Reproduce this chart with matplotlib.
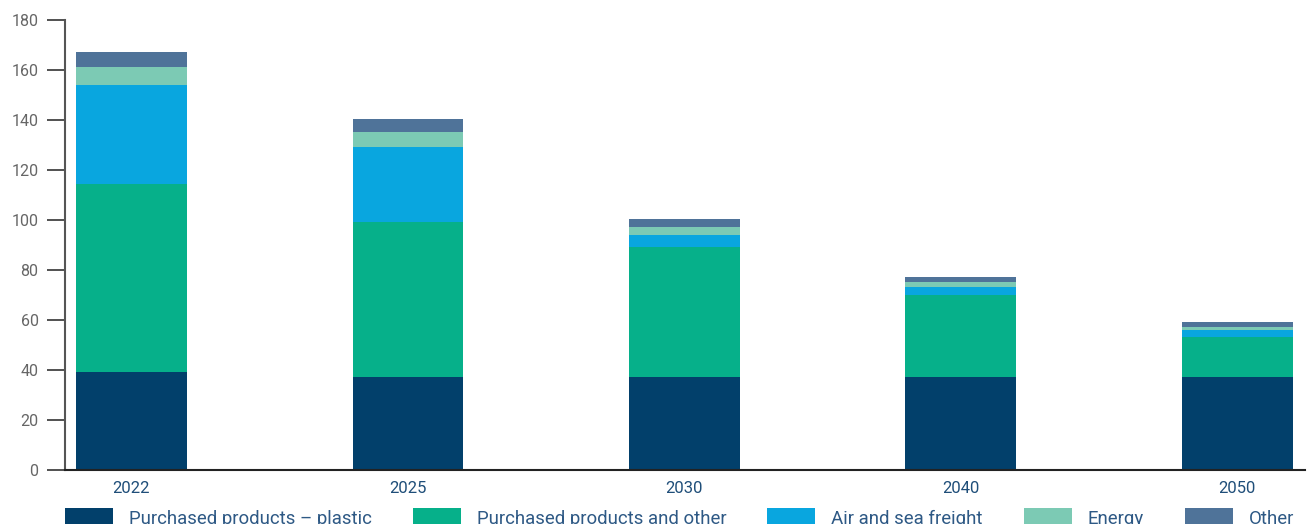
import numpy as np
import matplotlib
matplotlib.use("Agg")
import matplotlib.pyplot as plt

# values
years = ["2022", "2025", "2030", "2040", "2050"]
plastic = [39.2, 37.2, 37.2, 37.2, 37.2]
products_other = [75.2, 62.0, 52.0, 32.8, 16.0]
freight = [39.6, 30.0, 4.8, 3.2, 2.8]
energy = [7.2, 6.0, 3.2, 2.0, 1.2]
other = [6.0, 5.2, 3.2, 2.0, 2.0]

labels = ["Purchased products \u2013 plastic", "Purchased products and other",
          "Air and sea freight", "Energy", "Other"]
colors = ["#02406b", "#06b08a", "#09a6df", "#7ccab4", "#4f7399"]

plt.rcParams['font.family'] = ['Roboto', 'DejaVu Sans']

fig = plt.figure(figsize=(13.09, 5.24), dpi=100)
ax = fig.add_axes([65 / 1309, 54 / 524, 1240 / 1309, 450 / 524])

x = np.arange(len(years))
bottom = np.zeros(len(years))
for vals, lab, col in zip([plastic, products_other, freight, energy, other], labels, colors):
    ax.bar(x, vals, width=0.4, bottom=bottom, color=col, label=lab)
    bottom += np.array(vals)

ax.set_xlim(-0.24, 4.245)
ax.set_ylim(0, 180)
ax.set_yticks(range(0, 181, 20))
ax.set_xticks(x)
ax.set_xticklabels(years)

for s in ["top", "right"]:
    ax.spines[s].set_visible(False)
ax.spines["left"].set_color("#555555")
ax.spines["left"].set_linewidth(1.5)
ax.spines["bottom"].set_color("#222222")
ax.spines["bottom"].set_linewidth(1.5)

ax.tick_params(axis="y", length=13, width=1.2, color="#333333", labelcolor="#666666",
               labelsize=11.5, pad=6)
ax.tick_params(axis="x", length=0, labelcolor="#1f4e79", labelsize=12, pad=8)

# legend sits at the very bottom, partly cut off like the original
leg = fig.legend(loc="upper left", bbox_to_anchor=(65 / 1309, 16 / 524), ncol=5,
                 frameon=False, fontsize=13.4, handlelength=2.58, handleheight=1.2,
                 handletextpad=0.86, columnspacing=2.2, borderaxespad=0,
                 borderpad=0)
for t in leg.get_texts():
    t.set_color("#2e5985")

fig.savefig("out.png", dpi=100)
